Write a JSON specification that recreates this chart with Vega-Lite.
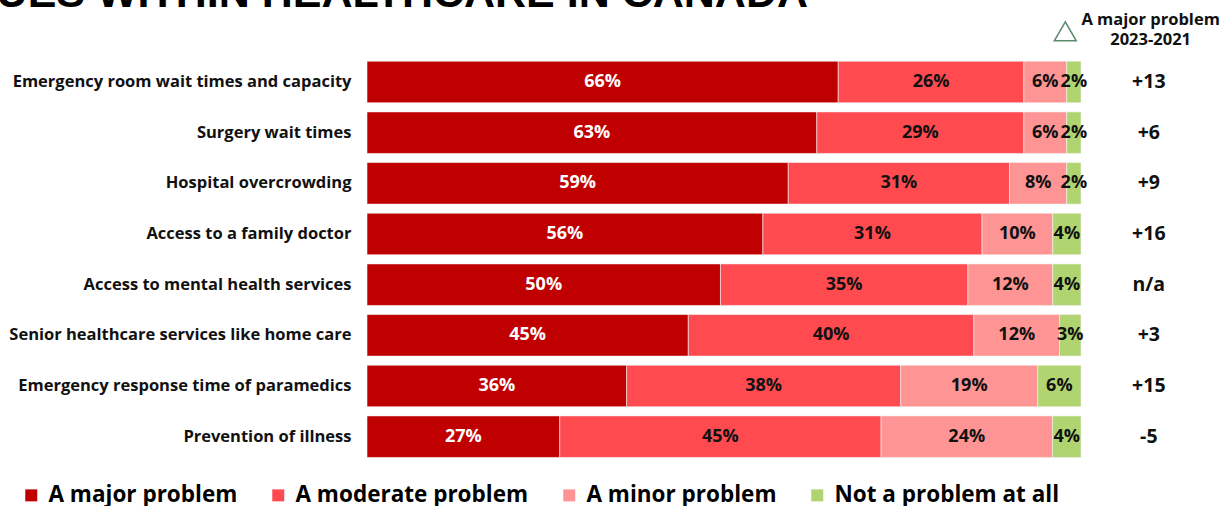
{
  "$schema": "https://vega.github.io/schema/vega-lite/v6.json",
  "autosize": {"type": "none"},
  "width": 714,
  "height": 456,
  "padding": {"left": 367, "top": 6, "right": 142, "bottom": 44},
  "background": "white",
  "title": {
    "text": "TOP ISSUES WITHIN HEALTHCARE IN CANADA",
    "anchor": "end",
    "frame": "group",
    "orient": "top",
    "dx": -273,
    "dy": 44,
    "baseline": "alphabetic",
    "font": "Liberation Sans",
    "fontSize": 43,
    "fontWeight": 900,
    "color": "#000000",
    "offset": 0
  },
  "datasets": {
    "bars": [
      {"item": "Emergency room wait times and capacity", "cat": "A major problem", "value": 66},
      {"item": "Emergency room wait times and capacity", "cat": "A moderate problem", "value": 26},
      {"item": "Emergency room wait times and capacity", "cat": "A minor problem", "value": 6},
      {"item": "Emergency room wait times and capacity", "cat": "Not a problem at all", "value": 2},
      {"item": "Surgery wait times", "cat": "A major problem", "value": 63},
      {"item": "Surgery wait times", "cat": "A moderate problem", "value": 29},
      {"item": "Surgery wait times", "cat": "A minor problem", "value": 6},
      {"item": "Surgery wait times", "cat": "Not a problem at all", "value": 2},
      {"item": "Hospital overcrowding", "cat": "A major problem", "value": 59},
      {"item": "Hospital overcrowding", "cat": "A moderate problem", "value": 31},
      {"item": "Hospital overcrowding", "cat": "A minor problem", "value": 8},
      {"item": "Hospital overcrowding", "cat": "Not a problem at all", "value": 2},
      {"item": "Access to a family doctor", "cat": "A major problem", "value": 56},
      {"item": "Access to a family doctor", "cat": "A moderate problem", "value": 31},
      {"item": "Access to a family doctor", "cat": "A minor problem", "value": 10},
      {"item": "Access to a family doctor", "cat": "Not a problem at all", "value": 4},
      {"item": "Access to mental health services", "cat": "A major problem", "value": 50},
      {"item": "Access to mental health services", "cat": "A moderate problem", "value": 35},
      {"item": "Access to mental health services", "cat": "A minor problem", "value": 12},
      {"item": "Access to mental health services", "cat": "Not a problem at all", "value": 4},
      {"item": "Senior healthcare services like home care", "cat": "A major problem", "value": 45},
      {"item": "Senior healthcare services like home care", "cat": "A moderate problem", "value": 40},
      {"item": "Senior healthcare services like home care", "cat": "A minor problem", "value": 12},
      {"item": "Senior healthcare services like home care", "cat": "Not a problem at all", "value": 3},
      {"item": "Emergency response time of paramedics", "cat": "A major problem", "value": 36},
      {"item": "Emergency response time of paramedics", "cat": "A moderate problem", "value": 38},
      {"item": "Emergency response time of paramedics", "cat": "A minor problem", "value": 19},
      {"item": "Emergency response time of paramedics", "cat": "Not a problem at all", "value": 6},
      {"item": "Prevention of illness", "cat": "A major problem", "value": 27},
      {"item": "Prevention of illness", "cat": "A moderate problem", "value": 45},
      {"item": "Prevention of illness", "cat": "A minor problem", "value": 24},
      {"item": "Prevention of illness", "cat": "Not a problem at all", "value": 4}
    ],
    "changes": [
      {"item": "Emergency room wait times and capacity", "change": "+13"},
      {"item": "Surgery wait times", "change": "+6"},
      {"item": "Hospital overcrowding", "change": "+9"},
      {"item": "Access to a family doctor", "change": "+16"},
      {"item": "Access to mental health services", "change": "n/a"},
      {"item": "Senior healthcare services like home care", "change": "+3"},
      {"item": "Emergency response time of paramedics", "change": "+15"},
      {"item": "Prevention of illness", "change": "-5"}
    ],
    "header": [
      {"item": " "}
    ]
  },
  "layer": [
    {
      "data": {"name": "bars"},
      "transform": [
        {"calculate": "indexof(['A major problem','A moderate problem','A minor problem','Not a problem at all'], datum.cat)", "as": "k"},
        {"stack": "value", "groupby": ["item"], "sort": [{"field": "k", "order": "ascending"}], "offset": "normalize", "as": ["x0", "x1"]},
        {"calculate": "(datum.x0 + datum.x1) / 2", "as": "mid"},
        {"calculate": "datum.value + '%'", "as": "label"}
      ],
      "layer": [
        {
          "mark": {"type": "bar", "stroke": "#f4f4f4", "strokeWidth": 0.6},
          "encoding": {
            "x": {"field": "x0", "type": "quantitative", "scale": {"domain": [0, 1]}, "axis": null},
            "x2": {"field": "x1"},
            "color": {
              "field": "cat",
              "type": "nominal",
              "sort": ["A major problem", "A moderate problem", "A minor problem", "Not a problem at all"],
              "scale": {
                "domain": ["A major problem", "A moderate problem", "A minor problem", "Not a problem at all"],
                "range": ["#C00000", "#FF4A50", "#FF9494", "#B0D46F"]
              },
              "legend": {
                "title": null,
                "orient": "none",
                "legendX": -347,
                "legendY": 478,
                "direction": "horizontal",
                "symbolType": "square",
                "symbolSize": 144,
                "symbolStrokeWidth": 0,
                "labelFont": "Open Sans",
                "labelFontSize": 22.5,
                "labelFontWeight": "bold",
                "labelColor": "#000000",
                "labelOffset": 6,
                "columnPadding": 29,
                "labelLimit": 400
              }
            }
          }
        },
        {
          "mark": {"type": "text", "font": "Open Sans", "fontSize": 18, "fontWeight": "bold", "align": "center", "baseline": "middle"},
          "encoding": {
            "x": {"field": "mid", "type": "quantitative"},
            "text": {"field": "label"},
            "color": {"condition": {"test": "datum.cat === 'A major problem'", "value": "white"}, "value": "#111111"}
          }
        }
      ],
      "encoding": {
        "y": {
          "field": "item",
          "type": "nominal",
          "sort": null,
          "scale": {
            "domain": [" ", "Emergency room wait times and capacity", "Surgery wait times", "Hospital overcrowding", "Access to a family doctor", "Access to mental health services", "Senior healthcare services like home care", "Emergency response time of paramedics", "Prevention of illness"],
            "paddingInner": 0.18,
            "paddingOuter": 0.09
          },
          "axis": {
            "title": null,
            "domain": false,
            "ticks": false,
            "labelPadding": 16,
            "labelFont": "Open Sans",
            "labelFontSize": 16.5,
            "labelFontWeight": "bold",
            "labelColor": "#111111",
            "labelLimit": 400
          }
        }
      }
    },
    {
      "data": {"name": "changes"},
      "mark": {"type": "text", "font": "Open Sans", "fontSize": 19.5, "fontWeight": "bold", "align": "center", "baseline": "middle", "color": "#111111"},
      "encoding": {
        "y": {"field": "item", "type": "nominal"},
        "x": {"datum": 1.095, "type": "quantitative"},
        "text": {"field": "change"}
      }
    },
    {
      "data": {"name": "header"},
      "layer": [
        {
          "mark": {"type": "text", "font": "Open Sans", "fontSize": 16.5, "fontWeight": "bold", "align": "center", "baseline": "middle", "color": "#111111", "lineHeight": 20, "dy": -11},
          "encoding": {
            "y": {"field": "item", "type": "nominal"},
            "x": {"datum": 1.0975, "type": "quantitative"},
            "text": {"value": ["A major problem", "2023-2021"]}
          }
        },
        {
          "mark": {"type": "point", "shape": "triangle-up", "filled": false, "stroke": "#5A8A6C", "strokeWidth": 1.5, "size": 480, "opacity": 1},
          "encoding": {
            "y": {"field": "item", "type": "nominal"},
            "x": {"datum": 0.978, "type": "quantitative"}
          }
        }
      ]
    }
  ],
  "config": {"view": {"stroke": null}}
}
